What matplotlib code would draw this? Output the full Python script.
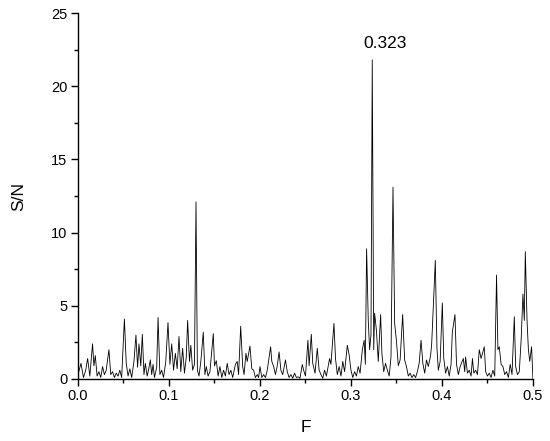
import numpy as np
import matplotlib; matplotlib.use("Agg")
import matplotlib.pyplot as plt
from matplotlib.ticker import MultipleLocator

# frequency / signal-to-noise values
freq = [0.000, 0.0033, 0.006, 0.0085, 0.0106, 0.013, 0.016, 0.0175, 0.019, 0.021,
        0.023, 0.025, 0.027, 0.029, 0.031, 0.034, 0.036, 0.038, 0.040, 0.042,
        0.044, 0.046, 0.048, 0.051, 0.053, 0.055, 0.057, 0.059, 0.0615, 0.0637,
        0.0655, 0.067, 0.069, 0.0707, 0.0725, 0.074, 0.076, 0.0775, 0.0795, 0.081,
        0.0825, 0.084, 0.0865, 0.088, 0.090, 0.092, 0.094, 0.0965, 0.0989, 0.101,
        0.103, 0.105, 0.107, 0.109, 0.111, 0.113, 0.115, 0.117, 0.119, 0.1205,
        0.1225, 0.124, 0.126, 0.128, 0.1297, 0.1312, 0.133, 0.135, 0.1377, 0.1395,
        0.141, 0.143, 0.145, 0.1487, 0.150, 0.152, 0.154, 0.156, 0.158, 0.160,
        0.162, 0.164, 0.166, 0.168, 0.170, 0.173, 0.175, 0.1765, 0.1788, 0.181,
        0.1825, 0.1846, 0.186, 0.189, 0.191, 0.193, 0.195, 0.197, 0.1985, 0.200,
        0.202, 0.204, 0.206, 0.208, 0.2117, 0.213, 0.215, 0.217, 0.219, 0.221,
        0.223, 0.225, 0.228, 0.230, 0.232, 0.234, 0.236, 0.238, 0.240, 0.242,
        0.244, 0.2465, 0.248, 0.250, 0.2527, 0.254, 0.2564, 0.258, 0.2605, 0.263,
        0.265, 0.267, 0.269, 0.271, 0.273, 0.2765, 0.278, 0.2813, 0.283, 0.285,
        0.287, 0.289, 0.291, 0.293, 0.296, 0.298, 0.300, 0.302, 0.304, 0.306,
        0.308, 0.310, 0.3125, 0.3145, 0.3158, 0.3172, 0.319, 0.3205, 0.322, 0.3234,
        0.325, 0.326, 0.328, 0.330, 0.3326, 0.334, 0.336, 0.338, 0.340, 0.342,
        0.344, 0.3462, 0.348, 0.350, 0.352, 0.354, 0.3568, 0.359, 0.361, 0.363,
        0.365, 0.367, 0.369, 0.371, 0.373, 0.375, 0.377, 0.379, 0.381, 0.383,
        0.385, 0.3875, 0.3887, 0.3927, 0.3945, 0.396, 0.398, 0.4004, 0.402, 0.404,
        0.406, 0.408, 0.410, 0.4114, 0.4143, 0.416, 0.418, 0.420, 0.4235, 0.425,
        0.426, 0.428, 0.430, 0.432, 0.4335, 0.435, 0.437, 0.439, 0.441, 0.443,
        0.4465, 0.448, 0.450, 0.452, 0.454, 0.456, 0.458, 0.460, 0.4615, 0.463,
        0.465, 0.467, 0.469, 0.471, 0.473, 0.475, 0.477, 0.4795, 0.481, 0.483,
        0.485, 0.487, 0.489, 0.4905, 0.4916, 0.4935, 0.495, 0.4965, 0.4985, 0.500]
sn = [0.3, 1.07, 0.1, 0.6, 1.4, 0.2, 2.4, 0.9, 1.6, 0.2,
      0.5, 0.1, 0.85, 0.3, 0.6, 2.0, 0.3, 0.5, 0.1, 0.4,
      0.2, 0.6, 0.1, 4.1, 1.1, 0.2, 0.7, 0.1, 1.2, 3.0,
      0.8, 2.4, 0.9, 3.05, 0.3, 1.07, 0.2, 0.6, 1.3, 0.3,
      1.0, 0.1, 0.8, 4.2, 0.3, 0.6, 0.1, 1.2, 3.85, 1.0,
      2.4, 0.6, 1.75, 0.7, 2.9, 0.5, 2.1, 0.4, 1.5, 4.0,
      1.2, 2.3, 0.6, 1.0, 12.1, 0.6, 0.2, 1.2, 3.2, 0.3,
      0.85, 0.2, 0.5, 3.1, 0.9, 1.25, 0.2, 0.85, 0.1, 0.6,
      0.2, 1.07, 0.3, 0.6, 0.1, 1.0, 1.2, 0.3, 3.6, 0.85,
      0.3, 1.75, 1.2, 2.25, 0.7, 0.6, 0.1, 0.3, 0.1, 0.85,
      0.1, 0.3, 0.1, 0.6, 2.2, 1.2, 0.85, 0.3, 0.9, 1.85,
      0.6, 0.3, 1.3, 0.5, 0.1, 0.3, 0.05, 0.4, 0.1, 0.15,
      0.05, 1.0, 0.6, 0.2, 2.65, 0.9, 3.05, 1.07, 0.4, 2.1,
      0.6, 0.3, 0.05, 0.6, 0.2, 1.4, 1.0, 3.8, 1.4, 0.3,
      0.85, 0.2, 1.2, 0.5, 2.3, 1.65, 0.6, 0.1, 0.5, 0.2,
      0.85, 0.4, 2.0, 2.65, 1.0, 8.9, 4.0, 2.0, 3.0, 21.8,
      2.0, 4.5, 3.3, 1.2, 4.4, 1.75, 0.5, 1.07, 0.6, 0.2,
      1.5, 13.1, 3.8, 2.6, 0.9, 1.3, 4.4, 1.3, 0.85, 0.2,
      0.4, 0.1, 0.3, 0.1, 0.5, 1.1, 2.65, 1.07, 0.4, 1.3,
      0.85, 1.6, 2.4, 8.1, 2.1, 0.6, 1.2, 5.2, 1.4, 0.4,
      0.85, 0.2, 1.0, 3.2, 4.4, 1.0, 0.3, 0.85, 1.4, 0.5,
      1.5, 0.4, 0.6, 0.2, 1.4, 0.4, 0.6, 0.3, 2.0, 1.4,
      2.2, 0.5, 0.2, 0.4, 0.1, 0.6, 0.2, 7.1, 2.0, 2.2,
      1.0, 0.85, 0.3, 0.5, 0.1, 1.0, 0.3, 4.25, 0.85, 0.3,
      0.5, 2.65, 5.8, 4.0, 8.7, 4.0, 2.0, 1.2, 2.2, 0.0]
peak_label = "0.323"

plt.rcParams.update({"font.family": ["Liberation Sans", "DejaVu Sans"], "font.size": 10})
fig = plt.figure(figsize=(5.5, 4.41), dpi=100)
ax = fig.add_axes([0.1418, 0.1406, 0.969 - 0.1418, 0.9705 - 0.1406])
ax.plot(freq, sn, color="black", lw=0.6)

ax.set_xlim(0, 0.5); ax.set_ylim(0, 25)
ax.xaxis.set_minor_locator(MultipleLocator(0.05))
ax.yaxis.set_major_locator(MultipleLocator(5)); ax.yaxis.set_minor_locator(MultipleLocator(2.5))
ax.set_xticks(np.arange(0, 0.51, 0.1)); ax.set_xticklabels(["0.0", "0.1", "0.2", "0.3", "0.4", "0.5"])
for s in ("top", "right"):
    ax.spines[s].set_visible(False)
for s in ("left", "bottom"):
    ax.spines[s].set_linewidth(1.0)
ax.tick_params(which="major", direction="out", length=5, width=1, labelsize=10.5, pad=2.5)
ax.tick_params(which="minor", direction="out", length=3, width=1)

ax.set_xlabel("F", fontsize=12.5, labelpad=12)
ax.set_ylabel("S/N", fontsize=12.5, labelpad=18)
ax.text(0.3374, 22.4, peak_label, ha="center", va="bottom", fontsize=12.5)

fig.savefig("out.png", dpi=100)
